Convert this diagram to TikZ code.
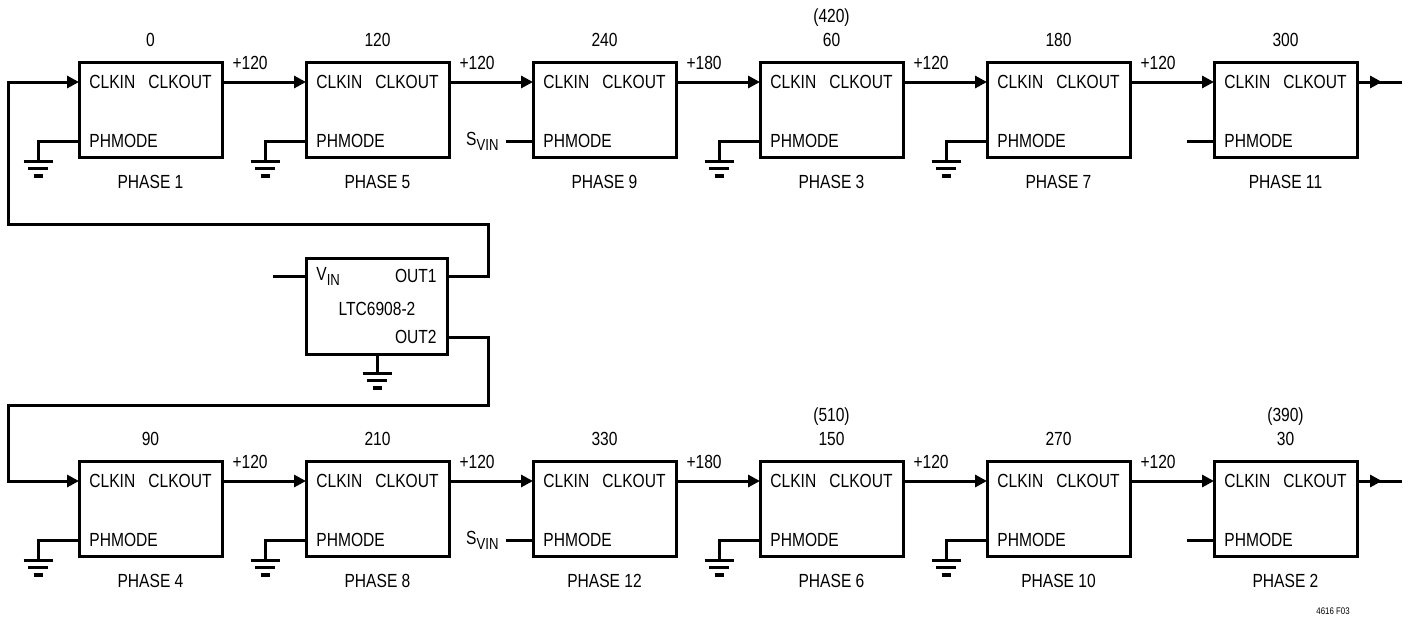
\documentclass[tikz,border=0pt]{standalone}
\usepackage{fontspec}
\setmainfont{Liberation Sans}[FakeStretch=0.82]
\usetikzlibrary{arrows.meta,positioning}
\tikzset{
    block/.style = {draw, line width = 1.5pt, minimum width = 71.5pt, minimum height = 47.5pt, inner sep = 0pt},
    wire/.style = {line width = 1.5pt},
    sig/.style = {wire, -{Triangle[length = 6pt, width = 6pt]}},
    pinlbl/.style = {inner sep = 0pt, font = \fontsize{9.5}{10}\selectfont},
    gnd/.pic = {
        \draw [line width = 1.5pt] (-14.5, 0) -- (14.5, 0) (-10, 7.5) -- (10, 7.5);
        \draw [line width = 2pt] (-4.5, 15) -- (4.5, 15);
    }
}
\newcommand{\sublbl}[2]{#1\raisebox{-2.5pt}{\fontsize{8}{8}\selectfont #2}}
\begin{document}
\begin{tikzpicture}[x = .5pt, y = -.5pt]
    \useasboundingbox (0, 0) rectangle (1410, 618);
    % phase blocks, top row then bottom row
    \foreach \n/\X/\Y/\ph/\val in {t1/79/62/1/0, t2/306/62/5/120, t3/533/62/9/240, t4/760/62/3/60, t5/987/62/7/180, t6/1214/62/11/300,
            b1/79/461/4/90, b2/306/461/8/210, b3/533/461/12/330, b4/760/461/6/150, b5/987/461/10/270, b6/1214/461/2/30} {
        \node [block] (\n) at (\X + 71.5, \Y + 47.5) {};
        \coordinate (\n-in) at (\X, \Y + 20);
        \coordinate (\n-out) at (\X + 143, \Y + 20);
        \coordinate (\n-ph) at (\X, \Y + 79);
        \node [pinlbl, anchor = west] at (\X + 10, \Y + 20) {CLKIN};
        \node [pinlbl, anchor = east] at (\X + 133, \Y + 20) {CLKOUT};
        \node [pinlbl, anchor = west] at (\X + 10, \Y + 79) {PHMODE};
        \node [pinlbl] (\n-name) at (\X + 71.5, \Y + 120) {PHASE \ph};
        \node [pinlbl] (\n-val) at (\X + 71.5, \Y - 22) {\val};
    }
    \node [pinlbl, above = 3pt of t4-val] {(420)};
    \node [pinlbl, above = 3pt of b4-val] {(510)};
    \node [pinlbl, above = 3pt of b6-val] {(390)};
    % clock chain
    \foreach \a/\b/\d in {t1/t2/+120, t2/t3/+120, t3/t4/+180, t4/t5/+120, t5/t6/+120,
            b1/b2/+120, b2/b3/+120, b3/b4/+180, b4/b5/+120, b5/b6/+120}
        \draw [sig] (\a-out) -- node [pinlbl, pos = 0, anchor = west, xshift = 4.5pt, yshift = 9.5pt] {\d} (\b-in);
    \foreach \n in {t6, b6} {
        \draw [wire] (\n-out) -- ++(45, 0) coordinate (\n-end);
        \draw [sig] (\n-out) -- ++(25, 0);
    }
    % PHMODE pins
    \foreach \n in {t1, t2, t4, t5, b1, b2, b4, b5}
        \draw [wire] (\n-ph) -- ++(-41, 0) -- ++(0, 20) pic {gnd};
    \foreach \n in {t3, b3}
        \draw [wire] (\n-ph) -- ++(-27, 0) node [pinlbl, anchor = east, xshift = -3pt] {\sublbl{S}{VIN}};
    \foreach \n in {t6, b6}
        \draw [wire] (\n-ph) -- ++(-27, 0);
    % oscillator
    \node [block, minimum width = 70.5pt, minimum height = 48pt] (ltc) at (376.5, 306) {};
    \coordinate (ltc-vin) at (306, 276);
    \coordinate (ltc-out1) at (447, 276);
    \coordinate (ltc-out2) at (447, 337);
    \coordinate (ltc-gnd) at (377, 354);
    \node [pinlbl, anchor = west] at (316, 276) {\sublbl{V}{IN}};
    \node [pinlbl, anchor = east] at (437, 276) {OUT1};
    \node [pinlbl] at (377, 309) {LTC6908-2};
    \node [pinlbl, anchor = east] at (437, 337) {OUT2};
    \draw [wire] (ltc-vin) -- ++(-33, 0);
    \draw [wire] (ltc-gnd) -- ++(0, 19) pic {gnd};
    \draw [sig] (ltc-out1) -- ++(41, 0) -- ++(0, -52) -- ++(-480, 0) |- (t1-in);
    \draw [sig] (ltc-out2) -- ++(41, 0) -- ++(0, 68) -- ++(-480, 0) |- (b1-in);
    \node [inner sep = 0pt, font = \fontsize{4.8}{5}\selectfont] (figno) at (1333, 611) {4616 F03};
\end{tikzpicture}
\end{document}
